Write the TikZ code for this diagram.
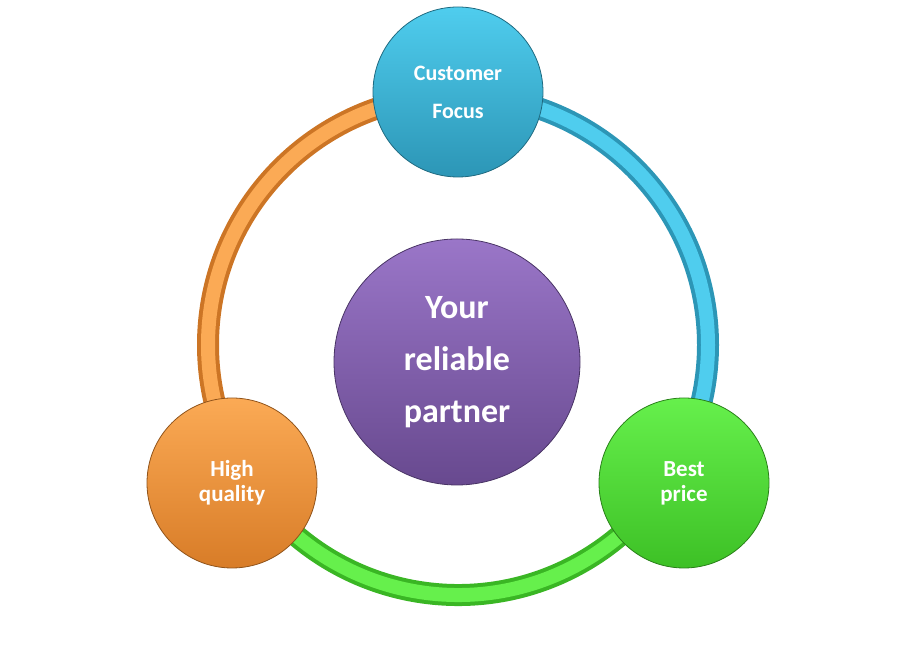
\documentclass[tikz,border=0pt]{standalone}
\usepackage{fontspec}
\setmainfont{Carlito}
\begin{document}
\begin{tikzpicture}[x=1pt,y=1pt,
  ball/.style={circle,draw=#1!60!black,line width=0.8pt,text=white,font=\bfseries,align=center},
  ring/.style={line width=22pt,draw=#1}]
\useasboundingbox (0,0) rectangle (916,655);
\definecolor{cb}{HTML}{34B0D6}\definecolor{cbl}{HTML}{4FCDEE}
\definecolor{co}{HTML}{F08A2C}\definecolor{col}{HTML}{FBAA55}
\definecolor{cg}{HTML}{44D62A}\definecolor{cgl}{HTML}{66F04C}
\definecolor{cp}{HTML}{7A56A8}\definecolor{cpl}{HTML}{9A76C8}
\coordinate (c) at (458,310);
% ring arcs
\draw[ring=cb!85!black] ([shift={(90:250)}]c) arc (90:-31:250);
\draw[line width=14pt,draw=cbl] ([shift={(90:250)}]c) arc (90:-31:250);
\draw[ring=co!85!black] ([shift={(90:250)}]c) arc (90:211:250);
\draw[line width=14pt,draw=col] ([shift={(90:250)}]c) arc (90:211:250);
\draw[ring=cg!85!black] ([shift={(211:250)}]c) arc (211:329:250);
\draw[line width=14pt,draw=cgl] ([shift={(211:250)}]c) arc (211:329:250);
% nodes
\node[ball=cb,minimum size=170pt,top color=cbl,bottom color=cb!85!black,font=\bfseries\fontsize{22}{38}\selectfont] (top) at (458,563) {Customer\\Focus};
\node[ball=co,minimum size=170pt,top color=col,bottom color=co!90!black,font=\bfseries\fontsize{23}{25}\selectfont] (hq) at (232,172) {High\\quality};
\node[ball=cg,minimum size=170pt,top color=cgl,bottom color=cg!90!black,font=\bfseries\fontsize{23}{25}\selectfont] (bp) at (684,172) {Best\\price};
\node[ball=cp,minimum size=246pt,top color=cpl,bottom color=cp!85!black,font=\bfseries\fontsize{34}{52}\selectfont] (mid) at (457,293) {Your\\reliable\\partner};
\end{tikzpicture}
\end{document}
